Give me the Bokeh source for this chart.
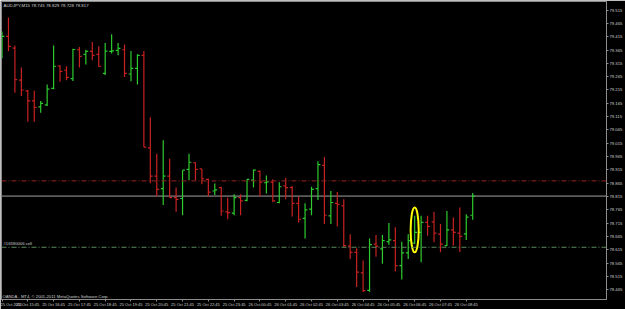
from bokeh.plotting import figure
from bokeh.models import ColumnDataSource, FixedTicker, PrintfTickFormatter, Span, Label
from bokeh.embed import file_html
from bokeh.resources import INLINE

SYMBOL = "AUDJPY,M15"

OPEN = [79.345, 79.416, 79.372, 79.252, 79.212, 79.174, 79.152, 79.159, 79.221, 79.305,
        79.289, 79.258, 79.366, 79.349, 79.360, 79.349, 79.277, 79.360, 79.364, 79.366,
        79.275, 79.296, 79.345, 78.998, 78.892, 78.845, 78.892, 78.811, 78.808, 78.917,
        78.942, 78.919, 78.880, 78.836, 78.849, 78.758, 78.753, 78.811, 78.801, 78.877,
        78.910, 78.867, 78.869, 78.793, 78.855, 78.849, 78.790, 78.733, 78.768, 78.845,
        78.932, 78.743, 78.790, 78.780, 78.629, 78.606, 78.529, 78.463, 78.637, 78.619,
        78.646, 78.650, 78.556, 78.604, 78.641, 78.681, 78.718, 78.720, 78.674, 78.631,
        78.690, 78.678, 78.675, 78.745]
HIGH = [79.434, 79.487, 79.382, 79.299, 79.215, 79.212, 79.174, 79.236, 79.382, 79.308,
        79.304, 79.370, 79.376, 79.366, 79.395, 79.379, 79.391, 79.424, 79.391, 79.386,
        79.361, 79.349, 79.361, 79.113, 78.976, 79.026, 78.957, 78.849, 78.914, 78.976,
        78.944, 78.919, 78.882, 78.864, 78.852, 78.811, 78.824, 78.824, 78.880, 78.917,
        78.913, 78.894, 78.880, 78.869, 78.886, 78.855, 78.815, 78.790, 78.852, 78.948,
        78.964, 78.836, 78.832, 78.805, 78.674, 78.621, 78.575, 78.658, 78.671, 78.671,
        78.716, 78.700, 78.646, 78.674, 78.743, 78.743, 78.743, 78.758, 78.712, 78.761,
        78.737, 78.774, 78.749, 78.829]
LOW = [79.334, 79.360, 79.205, 79.192, 79.096, 79.096, 79.130, 79.155, 79.218, 79.246,
       79.252, 79.249, 79.299, 79.311, 79.327, 79.302, 79.271, 79.352, 79.345, 79.264,
       79.248, 79.236, 79.001, 78.865, 78.815, 78.784, 78.811, 78.758, 78.745, 78.877,
       78.877, 78.861, 78.815, 78.821, 78.743, 78.730, 78.745, 78.745, 78.798, 78.849,
       78.815, 78.827, 78.795, 78.790, 78.805, 78.740, 78.718, 78.658, 78.745, 78.802,
       78.712, 78.712, 78.703, 78.626, 78.581, 78.476, 78.457, 78.458, 78.589, 78.563,
       78.634, 78.534, 78.504, 78.581, 78.637, 78.569, 78.668, 78.644, 78.606, 78.630,
       78.632, 78.607, 78.652, 78.728]
CLOSE = [79.416, 79.379, 79.254, 79.215, 79.174, 79.150, 79.165, 79.218, 79.304, 79.285,
         79.262, 79.367, 79.341, 79.360, 79.345, 79.304, 79.361, 79.362, 79.371, 79.277,
         79.296, 79.345, 79.001, 78.892, 78.842, 78.892, 78.811, 78.805, 78.914, 78.944,
         78.917, 78.882, 78.832, 78.840, 78.761, 78.755, 78.811, 78.799, 78.880, 78.914,
         78.869, 78.870, 78.799, 78.852, 78.849, 78.790, 78.730, 78.765, 78.842, 78.935,
         78.745, 78.793, 78.786, 78.631, 78.606, 78.532, 78.462, 78.635, 78.628, 78.650,
         78.653, 78.556, 78.604, 78.650, 78.681, 78.718, 78.703, 78.678, 78.637, 78.690,
         78.681, 78.666, 78.738, 78.817]

TIME_TICKS = [0, 4, 8, 12, 16, 20, 24, 28, 32, 36, 40, 44, 48, 52, 56, 60, 64, 68, 72]
TIME_LABELS = ["25 Oct 2011", "25 Oct 15:45", "25 Oct 16:45", "25 Oct 17:45", "25 Oct 18:45",
               "25 Oct 19:45", "25 Oct 20:45", "25 Oct 21:45", "25 Oct 22:45", "25 Oct 23:45",
               "26 Oct 00:45", "26 Oct 01:45", "26 Oct 02:45", "26 Oct 03:45", "26 Oct 04:45",
               "26 Oct 05:45", "26 Oct 06:45", "26 Oct 07:45", "26 Oct 08:45"]
PRICE_TICKS = [78.415, 78.465, 78.515, 78.565, 78.615, 78.665, 78.715, 78.765, 78.815, 78.865,
               78.915, 78.965, 79.015, 79.065, 79.115, 79.165, 79.215, 79.265, 79.315, 79.365,
               79.415, 79.465, 79.515]

STOP_LEVEL = 78.874
ORDER_LEVEL = 78.625
ORDER_TEXT = "#16590006 sell"
COPYRIGHT = "OANDA - MT4, \u00a9 2001-2011 MetaQuotes Software Corp."
HILITE_BAR = 64
HILITE_PRICE = 78.690

X_START, X_END = -0.08, 93.75
Y_LO, Y_HI = 78.429, 79.547

UP_COLOR = "#2ecb2e"
DOWN_COLOR = "#c82222"
FRAME_COLOR = "#8c8c8c"
TEXT_COLOR = "#cfcfcf"
FONT = "Liberation Sans"
FS = "4.2px"
TICK_HALF = 0.36

n = len(OPEN)
xs = list(range(n))
colors = [UP_COLOR if c >= o else DOWN_COLOR for o, c in zip(OPEN, CLOSE)]
src = ColumnDataSource(dict(
    x=xs, xl=[x - TICK_HALF for x in xs], xr=[x + TICK_HALF for x in xs],
    open=OPEN, high=HIGH, low=LOW, close=CLOSE, color=colors))

p = figure(width=625, height=309, x_range=(X_START, X_END), y_range=(Y_LO, Y_HI),
           output_backend="svg", toolbar_location=None, y_axis_location="right",
           background_fill_color="black", border_fill_color="black",
           min_border_left=1, min_border_right=16, min_border_top=1, min_border_bottom=8,
           outline_line_color=FRAME_COLOR)
p.grid.visible = False

bid = CLOSE[-1]
p.add_layout(Span(location=bid, dimension="width", line_color="#5c5c5c", line_width=1.6, level="underlay"))
p.add_layout(Span(location=STOP_LEVEL, dimension="width", line_color="#962626", line_width=1, line_dash="5 2 1 2"))
p.add_layout(Span(location=ORDER_LEVEL, dimension="width", line_color="#5f8a5f", line_width=1, line_dash="5 2 1 2"))

p.segment(x0="x", y0="low", x1="x", y1="high", color="color", line_width=1.2, source=src)
p.segment(x0="xl", y0="open", x1="x", y1="open", color="color", line_width=1.2, source=src)
p.segment(x0="x", y0="close", x1="xr", y1="close", color="color", line_width=1.2, source=src)

p.ellipse(x=[HILITE_BAR], y=[HILITE_PRICE], width=1.25, height=0.168,
          fill_color=None, line_color="#ffff00", line_width=2)

for ax in (p.xaxis, p.yaxis):
    ax.axis_line_color = FRAME_COLOR
    ax.major_tick_line_color = FRAME_COLOR
    ax.minor_tick_line_color = None
    ax.major_tick_in = 0
    ax.major_tick_out = 2
    ax.major_label_text_font = FONT
    ax.major_label_text_font_size = FS
    ax.major_label_text_color = TEXT_COLOR
    ax.major_label_standoff = 1

p.xaxis.ticker = FixedTicker(ticks=TIME_TICKS)
p.xaxis.major_label_overrides = {t: s for t, s in zip(TIME_TICKS, TIME_LABELS)}
p.xaxis.major_label_text_align = "left"
p.xaxis.major_label_text_font_size = "4px"
p.xaxis.major_label_standoff = 0

p.yaxis.ticker = FixedTicker(ticks=PRICE_TICKS)
p.yaxis.formatter = PrintfTickFormatter(format="%.3f")
p.yaxis.major_label_text_baseline = "bottom"

title = "%s  %.3f %.3f %.3f %.3f" % (SYMBOL, OPEN[-1], HIGH[-1], LOW[-1], CLOSE[-1])
p.add_layout(Label(x=X_START, y=Y_HI, x_offset=2, y_offset=-1, text=title,
                   text_baseline="top", text_align="left", text_font=FONT,
                   text_font_size="4.4px", text_color=TEXT_COLOR))
p.add_layout(Label(x=X_START, y=Y_LO, x_offset=1, y_offset=1, text=COPYRIGHT,
                   text_baseline="bottom", text_align="left", text_font=FONT,
                   text_font_size=FS, text_color=TEXT_COLOR))
p.add_layout(Label(x=X_START, y=ORDER_LEVEL, x_offset=2, y_offset=1, text=ORDER_TEXT,
                   text_baseline="bottom", text_align="left", text_font=FONT,
                   text_font_size=FS, text_color=TEXT_COLOR))
p.add_layout(Label(x=X_END, y=bid, x_offset=1, text="%.3f" % bid,
                   text_baseline="middle", text_align="left", text_font=FONT,
                   text_font_size=FS, text_color="black",
                   background_fill_color="#d0d0d0"))

open("out.html", "w").write(file_html(p, INLINE))
